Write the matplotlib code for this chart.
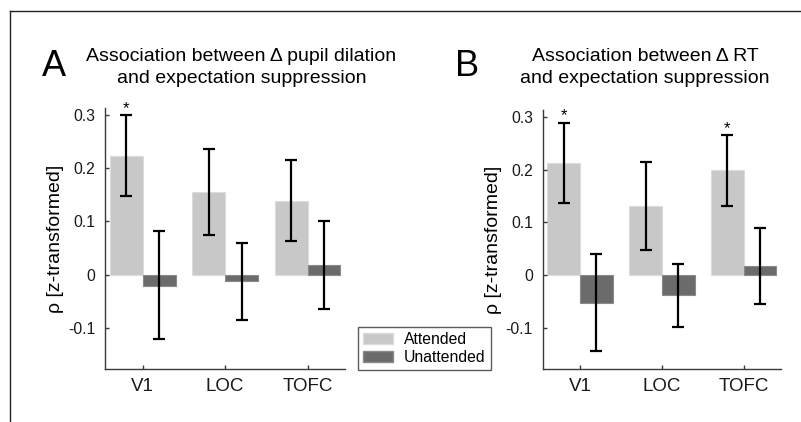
#!/usr/bin/env python3
import matplotlib
matplotlib.use("Agg")
import matplotlib.pyplot as plt
import numpy as np
from matplotlib.lines import Line2D
from matplotlib.patches import Patch

color_att   = "#c8c8c8"
color_unatt = "#6b6b6b"
color_axis  = "#3a3a3a"

regions = ["V1", "LOC", "TOFC"]

# panel A: pupil dilation
a_att      = [0.223, 0.155, 0.139]
a_att_lo   = [0.147, 0.075, 0.064]
a_att_hi   = [0.299, 0.236, 0.215]
a_unatt    = [-0.021, -0.012, 0.018]
a_unatt_lo = [-0.121, -0.086, -0.064]
a_unatt_hi = [0.081, 0.060, 0.100]
a_sig_att  = [True, False, False]

# panel B: RT
b_att      = [0.212, 0.131, 0.199]
b_att_lo   = [0.136, 0.047, 0.132]
b_att_hi   = [0.289, 0.215, 0.266]
b_unatt    = [-0.052, -0.038, 0.018]
b_unatt_lo = [-0.143, -0.097, -0.054]
b_unatt_hi = [0.041, 0.021, 0.090]
b_sig_att  = [True, False, True]

plt.rcParams["font.family"] = ["Liberation Sans", "DejaVu Sans"]

W, H = 801, 422


def px(x0, y0, x1, y1):
    # pixel box (top-left origin) -> figure fraction rect
    return [x0 / W, 1 - y1 / H, (x1 - x0) / W, (y1 - y0) / H]


def panel(ax, att, att_lo, att_hi, unatt, unatt_lo, unatt_hi, sig):
    x = np.arange(1, len(regions) + 1)
    att = np.asarray(att); unatt = np.asarray(unatt)
    ax.bar(x - 0.2, att, width=0.4, color=color_att, edgecolor="#dcdcdc", linewidth=0.8)
    ax.bar(x + 0.2, unatt, width=0.4, color=color_unatt, edgecolor="#8a8a8a", linewidth=0.8)
    err_a = [att - np.asarray(att_lo), np.asarray(att_hi) - att]
    err_u = [unatt - np.asarray(unatt_lo), np.asarray(unatt_hi) - unatt]
    ax.errorbar(x - 0.2, att, yerr=err_a, fmt="none", ecolor="black",
                elinewidth=1.6, capsize=4.2, capthick=1.6)
    ax.errorbar(x + 0.2, unatt, yerr=err_u, fmt="none", ecolor="black",
                elinewidth=1.6, capsize=4.2, capthick=1.6)
    for xi, hi, s in zip(x, att_hi, sig):
        if s:
            ax.annotate("*", (xi - 0.2, hi), xytext=(0, 1.5), textcoords="offset points",
                        ha="center", va="baseline", fontsize=12)

    ax.set_xlim(0.543, 3.455)
    ax.set_ylim(-0.178, 0.313)
    ax.set_xticks(x)
    ax.set_xticklabels(regions, fontsize=13.5)
    ax.set_yticks([-0.1, 0, 0.1, 0.2, 0.3])
    ax.set_yticklabels(["-0.1", "0", "0.1", "0.2", "0.3"], fontsize=11.3)
    ax.set_ylabel("ρ [z-transformed]", fontsize=14, labelpad=3)
    for side in ["top", "right"]:
        ax.spines[side].set_visible(False)
    for side in ["left", "bottom"]:
        ax.spines[side].set_color(color_axis)
        ax.spines[side].set_linewidth(1.0)
    ax.tick_params(direction="in", length=3, width=1.0, color=color_axis, labelcolor="#1a1a1a")
    ax.tick_params(axis="x", pad=6)
    ax.tick_params(axis="y", pad=7)


fig = plt.figure(figsize=(W / 100, H / 100), dpi=100)
axA = fig.add_axes(px(105, 108, 345, 369.3))
axB = fig.add_axes(px(542.7, 110, 781, 369.3))

panel(axA, a_att, a_att_lo, a_att_hi, a_unatt, a_unatt_lo, a_unatt_hi, a_sig_att)
panel(axB, b_att, b_att_lo, b_att_hi, b_unatt, b_unatt_lo, b_unatt_hi, b_sig_att)

# panel letters and titles
fig.text(41.7 / W, 1 - 75.5 / H, "A", fontsize=26, va="baseline", ha="left")
fig.text(455 / W, 1 - 75.5 / H, "B", fontsize=26, va="baseline", ha="left")
fig.text(241.5 / W, 1 - 61 / H, "Association between Δ pupil dilation", fontsize=14,
         ha="center", va="baseline")
fig.text(241.5 / W, 1 - 83.3 / H, "and expectation suppression", fontsize=14,
         ha="center", va="baseline")
fig.text(645 / W, 1 - 61 / H, "Association between Δ RT", fontsize=14,
         ha="center", va="baseline")
fig.text(645 / W, 1 - 83.3 / H, "and expectation suppression", fontsize=14,
         ha="center", va="baseline")

# legend
handles = [Patch(facecolor=color_att, edgecolor="#dcdcdc"),
           Patch(facecolor=color_unatt, edgecolor="#8a8a8a")]
leg = fig.legend(handles, ["Attended", "Unattended"], loc="lower left",
                 bbox_to_anchor=(357.7 / W, 1 - 370 / H), fontsize=11.3,
                 frameon=True, fancybox=False, handlelength=1.9, handleheight=0.7,
                 handletextpad=0.7, labelspacing=0.15, borderpad=0.35, borderaxespad=0)
leg.get_frame().set_edgecolor("#333333")
leg.get_frame().set_linewidth(1.0)

# partial figure frame
fig.add_artist(Line2D([10 / W, 1], [1 - 11 / H, 1 - 11 / H], transform=fig.transFigure,
                      color="#222222", linewidth=1.0))
fig.add_artist(Line2D([10 / W, 10 / W], [0, 1 - 11 / H], transform=fig.transFigure,
                      color="#222222", linewidth=1.0))

fig.savefig("out.png", dpi=100)
